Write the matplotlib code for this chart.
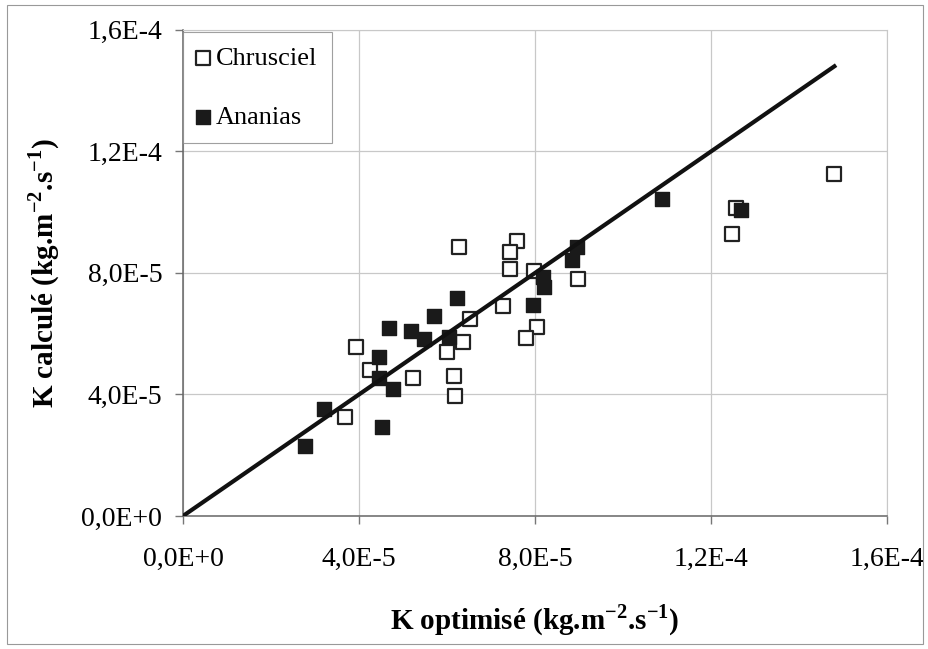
import numpy as np
import matplotlib.pyplot as plt
from matplotlib.patches import Rectangle

plt.rcParams['font.family'] = ['Liberation Serif', 'DejaVu Serif']
plt.rcParams['mathtext.fontset'] = 'custom'
plt.rcParams['mathtext.rm'] = 'Liberation Serif'
plt.rcParams['mathtext.bf'] = 'Liberation Serif:bold'

# values in units of 1E-5
chrus_x = [6.26, 7.58, 7.42, 7.43, 7.98, 8.97, 7.26, 6.51, 8.04, 7.80, 6.37,
           6.00, 3.93, 4.25, 5.23, 6.16, 6.18, 3.68, 14.78, 12.57, 12.47]
chrus_y = [8.86, 9.06, 8.69, 8.13, 8.06, 7.79, 6.91, 6.48, 6.23, 5.85, 5.73,
           5.40, 5.55, 4.80, 4.53, 4.61, 3.95, 3.25, 11.27, 10.15, 9.28]

anan_x = [8.96, 8.83, 8.19, 8.20, 7.95, 6.23, 5.70, 4.69, 5.17, 5.48, 6.05,
          4.45, 4.45, 4.76, 3.21, 4.51, 2.77, 10.88, 12.67]
anan_y = [8.86, 8.44, 7.87, 7.54, 6.96, 7.18, 6.58, 6.19, 6.09, 5.82, 5.88,
          5.22, 4.53, 4.17, 3.51, 2.94, 2.31, 10.42, 10.07]

line_x = [0, 14.8]
line_y = [0, 14.8]

ticks = [0, 4, 8, 12, 16]
tick_labels = ['0,0E+0', '4,0E-5', '8,0E-5', '1,2E-4', '1,6E-4']

fig = plt.figure(figsize=(9.29, 6.49), dpi=100)
ax = fig.add_axes([0.197, 0.205, 0.758, 0.749])

ax.scatter(chrus_x, chrus_y, marker='s', s=110, facecolor='white',
           edgecolor='#222222', linewidths=1.6, label='Chrusciel', zorder=3)
ax.scatter(anan_x, anan_y, marker='s', s=110, facecolor='#1a1a1a',
           edgecolor='#1a1a1a', linewidths=1, label='Ananias', zorder=4)
ax.plot(line_x, line_y, color='#111111', lw=3, zorder=5)

ax.set_xlim(0, 16)
ax.set_ylim(0, 16)
ax.set_xticks(ticks)
ax.set_yticks(ticks)
ax.set_xticklabels(tick_labels, fontsize=20)
ax.set_yticklabels(tick_labels, fontsize=20)
ax.tick_params(axis='y', length=6, width=1, color='#777777', pad=9)
ax.tick_params(axis='x', length=6, width=1, color='#777777', pad=16)
ax.grid(True, color='#c8c8c8', lw=0.9)
ax.set_axisbelow(True)
for s in ['top', 'right']:
    ax.spines[s].set_color('#c8c8c8')
for s in ['left', 'bottom']:
    ax.spines[s].set_color('#666666')
    ax.spines[s].set_linewidth(1.1)

ax.set_xlabel(r'K optimisé (kg.m$^{\mathbf{-2}}$.s$^{\mathbf{-1}}$)', fontsize=21,
              fontweight='bold', labelpad=22)
ax.set_ylabel(r'K calculé (kg.m$^{\mathbf{-2}}$.s$^{\mathbf{-1}}$)', fontsize=21,
              fontweight='bold', labelpad=14)

leg = ax.legend(loc='upper left', fontsize=19, frameon=True, fancybox=False,
                edgecolor='#888888', labelspacing=1.35, handletextpad=0.25,
                handlelength=0.45, borderpad=0.55, borderaxespad=0,
                markerscale=0.9, bbox_to_anchor=(0.0, 0.996))
leg.get_frame().set_linewidth(0.8)

fig.patches.append(Rectangle((0.007, 0.007), 0.987, 0.985, transform=fig.transFigure,
                             fill=False, edgecolor='#999999', lw=0.8))

fig.savefig('out.png', dpi=100)
